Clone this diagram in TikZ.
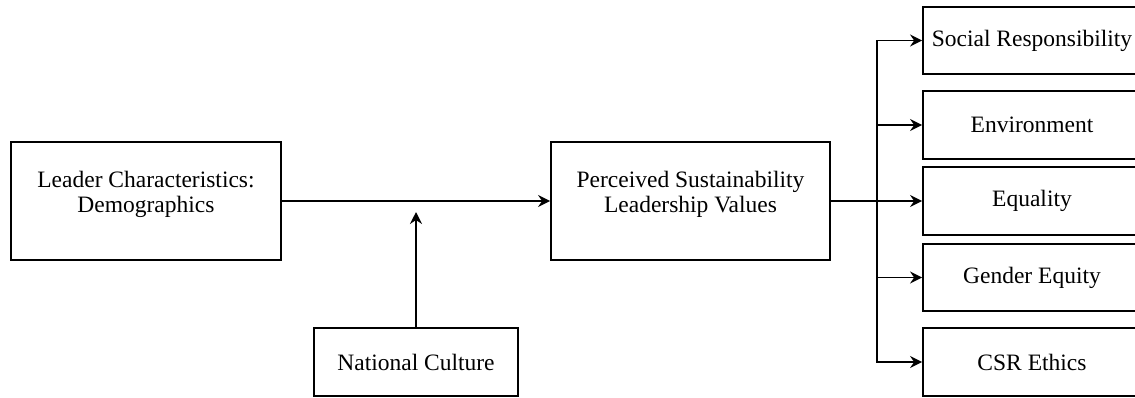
\documentclass[tikz,border=0pt]{standalone}
\usepackage{fontspec}
\setmainfont{Liberation Serif}
\usetikzlibrary{arrows.meta}

\tikzset{
  box/.style={draw=black, line width=0.9pt, rectangle, inner sep=2pt,
    align=center, font=\fontsize{11.75pt}{12.5pt}\selectfont},
  twoline/.style={box, minimum width=#1, minimum height=59pt, text depth=9.05pt},
  outcome/.style={box, minimum width=109pt, minimum height=33.75pt},
  link/.style={line width=0.9pt, -{Stealth[length=6pt, width=6pt, inset=2pt]}},
}

\begin{document}
\begin{tikzpicture}[x=0.5pt, y=-0.5pt]
  \useasboundingbox (0,0) rectangle (1135,397);
  \clip (0,0) rectangle (1135,397);

  % predictor, moderator and mediator
  \node[twoline=135pt] (lead) at (146,201) {Leader Characteristics:\\Demographics};
  \node[twoline=139.5pt] (perc) at (690.5,201) {Perceived Sustainability\\Leadership Values};
  \node[box, minimum width=102pt, minimum height=34pt] (nat) at (416,362) {National Culture};

  % outcome dimensions
  \node[outcome] (soc) at (1032,40.5) {Social Responsibility};
  \node[outcome] (env) at (1032,125) {Environment};
  \node[outcome] (equ) at (1032,201) {Equality};
  \node[outcome] (gen) at (1032,277.5) {Gender Equity};
  \node[outcome] (csr) at (1032,362) {CSR Ethics};

  % main path with moderating effect
  \draw[link] (lead.east) -- (perc.west);
  \coordinate (mod) at (416,212);
  \draw[link] (nat.north) -- (mod);

  % distribution bus to the value dimensions
  \coordinate (bus) at (877,201);
  \draw[link] (perc.east) -- (equ.west);
  \draw[link] (bus) |- (soc.west);
  \draw[link] (bus) |- (env.west);
  \draw[link] (bus) |- (gen.west);
  \draw[link] (bus) |- (csr.west);
\end{tikzpicture}
\end{document}
